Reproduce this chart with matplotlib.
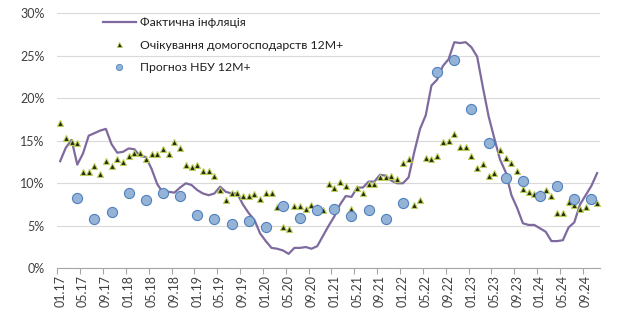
import numpy as np
import matplotlib
matplotlib.use("Agg")
import matplotlib.pyplot as plt
from matplotlib.lines import Line2D

plt.rcParams["font.family"] = ["Lato", "DejaVu Sans"]

# monthly data, 01.2017 - 11.2024
tick_labels = ["01.17", "05.17", "09.17", "01.18", "05.18", "09.18",
               "01.19", "05.19", "09.19", "01.20", "05.20", "09.20",
               "01.21", "05.21", "09.21", "01.22", "05.22", "09.22",
               "01.23", "05.23", "09.23", "01.24", "05.24", "09.24"]

inflation = [12.6, 14.2, 15.1, 12.2, 13.5, 15.6, 15.9, 16.2, 16.4, 14.6, 13.6, 13.7,
             14.1, 14.0, 13.2, 13.1, 11.7, 9.9, 8.9, 9.0, 8.9, 9.5, 10.0, 9.8,
             9.2, 8.8, 8.6, 8.8, 9.6, 9.0, 8.8, 8.8, 7.5, 6.5, 5.7, 4.1,
             3.2, 2.4, 2.3, 2.1, 1.7, 2.4, 2.4, 2.5, 2.3, 2.6, 3.8, 5.0,
             6.1, 7.5, 8.5, 8.4, 9.5, 9.5, 10.2, 10.2, 11.0, 10.9, 10.3, 10.0,
             10.0, 10.7, 13.7, 16.4, 18.0, 21.5, 22.2, 23.8, 24.6, 26.6, 26.5, 26.6,
             26.0, 24.9, 21.3, 17.9, 15.3, 12.8, 11.3, 8.6, 7.1, 5.3, 5.1, 5.1,
             4.7, 4.3, 3.2, 3.2, 3.3, 4.8, 5.4, 7.5, 8.6, 9.7, 11.2]

households = [17.1, 15.3, 14.8, 14.7, 11.3, 11.3, 12.0, 11.1, 12.6, 12.0, 12.9, 12.5,
              13.2, 13.6, 13.6, 12.9, 13.5, 13.4, 14.0, 13.5, 14.9, 14.2, 12.2, 11.9,
              12.2, 11.5, 11.4, 10.9, 9.2, 8.0, 8.8, 8.9, 8.5, 8.5, 8.7, 8.2,
              8.8, 8.8, 7.2, 4.9, 4.6, 7.3, 7.3, 7.0, 7.4, 7.2, 6.9, 9.9,
              9.4, 10.2, 9.7, 7.0, 9.5, 8.8, 9.9, 9.9, 10.7, 10.7, 10.9, 10.5,
              12.4, 12.9, 7.5, 8.0, 13.0, 12.9, 13.2, 14.9, 15.0, 15.8, 14.3, 14.3,
              13.2, 11.8, 12.3, 10.9, 11.2, 13.9, 13.0, 12.4, 11.5, 9.3, 9.0, 8.7,
              8.9, 9.2, 8.5, 6.5, 6.5, 7.8, 7.4, 7.0, 7.2, 8.0, 7.7]

# NBU forecasts, published quarterly (04.17, 07.17, ...)
nbu_forecast = [8.3, 5.8, 6.6, 8.9, 8.0, 8.9, 8.5, 6.3, 5.8, 5.2, 5.6, 4.8,
                7.3, 5.9, 6.9, 7.0, 6.1, 6.9, 5.8, 7.7, np.nan, 23.1, 24.5, 18.7,
                14.7, 10.6, 10.3, 8.5, 9.7, 8.2, 8.2]

x = np.arange(len(inflation))
x_nbu = np.arange(3, len(inflation), 3)[:len(nbu_forecast)]

line_c = "#7E6A9F"
tri_face, tri_edge = "#26260a", "#B9D05A"
circ_face, circ_edge = "#95B3D7", "#4F81BD"
text_c = "#404040"

fig = plt.figure(figsize=(6.2, 3.22), dpi=100)
ax = fig.add_axes([0.0924, 0.1668, 0.8753, 0.7919])

ax.plot(x, inflation, color=line_c, lw=1.6, zorder=3)
ax.plot(x, households, ls="none", marker="^", ms=4.6, mfc=tri_face,
        mec=tri_edge, mew=0.8, zorder=4)
ax.plot(x_nbu, nbu_forecast, ls="none", marker="o", ms=7.3, mfc=circ_face,
        mec=circ_edge, mew=0.8, zorder=5)

ax.set_xlim(-0.5, len(inflation) - 0.5)
ax.set_ylim(0, 30)
ax.set_yticks(range(0, 31, 5))
ax.set_yticklabels([f"{v}%" for v in range(0, 31, 5)], fontsize=9, color=text_c)
ax.tick_params(axis="y", length=0, pad=9)
ax.yaxis.grid(True, color="#D9D9D9", lw=0.8)
ax.set_axisbelow(True)

ax.set_xticks(np.arange(0, len(inflation), 4))
ax.set_xticklabels(tick_labels, rotation=90, fontsize=9, color=text_c)
ax.set_xticks(np.arange(0, len(inflation), 4) - 0.5, minor=True)
ax.tick_params(axis="x", which="major", length=0, pad=5)
ax.tick_params(axis="x", which="minor", length=4, color="#A6A6A6", width=0.8)

for s in ["top", "right", "left"]:
    ax.spines[s].set_visible(False)
ax.spines["bottom"].set_color("#A6A6A6")
ax.spines["bottom"].set_linewidth(0.8)

handles = [
    Line2D([], [], color=line_c, lw=1.6),
    Line2D([], [], ls="none", marker="^", ms=3.6, mfc=tri_face, mec=tri_edge, mew=0.6),
    Line2D([], [], ls="none", marker="o", ms=4.5, mfc=circ_face, mec=circ_edge, mew=0.6),
]
labels = ["Фактична інфляція", "Очікування домогосподарств 12М+", "Прогноз НБУ 12М+"]
fig.legend(handles, labels, loc="upper left", bbox_to_anchor=(0.158, 0.962),
           frameon=False, fontsize=8.8, handlelength=2.7, handletextpad=0.35,
           labelspacing=0.95, labelcolor="#202020", borderaxespad=0)

fig.savefig("out.png", dpi=100)
